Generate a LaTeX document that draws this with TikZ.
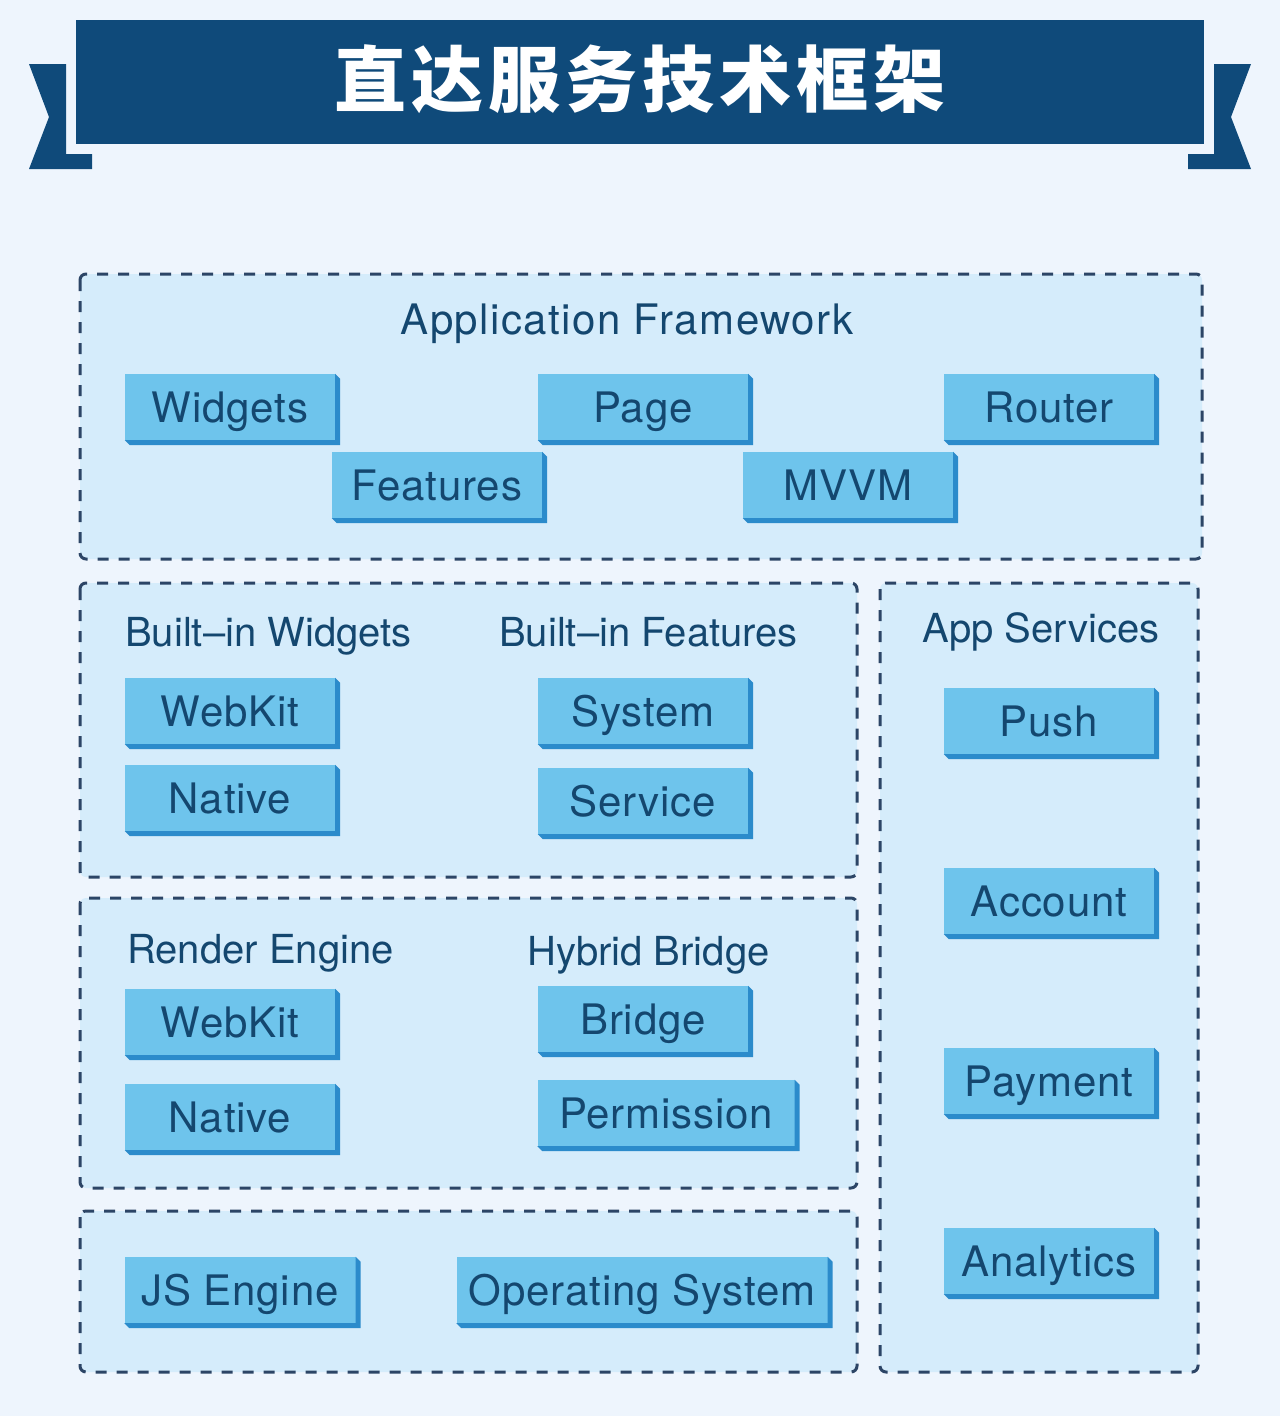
\documentclass[tikz,border=0pt]{standalone}
\usepackage{fontspec}
\setmainfont{TeX Gyre Heros}[LetterSpace=2]
\newfontfamily\subfont{TeX Gyre Heros}[LetterSpace=0]
\newfontfamily\affont{TeX Gyre Heros}[LetterSpace=3.5]
\newfontfamily\cjk{Noto Sans CJK SC}[LetterSpace=7]
\definecolor{bgc}{HTML}{EEF5FD}
\definecolor{contc}{HTML}{D5ECFB}
\definecolor{dashc}{HTML}{2C4566}
\definecolor{facec}{HTML}{6EC4EC}
\definecolor{shadc}{HTML}{2B8BCB}
\definecolor{txtc}{HTML}{14476F}
\definecolor{bannerc}{HTML}{0F4A7A}
\tikzset{
  container/.style={draw=dashc, line width=3pt, dash pattern=on 11pt off 10pt, rounded corners=6pt, fill=contc},
  blk/.style={fill=facec, inner sep=0pt, minimum height=66pt, text height=30pt, text depth=0pt,
    font=\fontsize{42}{50}\selectfont, text=txtc},
  hdr/.style={font=\subfont\fontsize{40}{48}\selectfont, text=txtc, inner sep=0pt},
}
\newcommand\blox[5]{%
  \node[blk, minimum width=#4pt] (#1) at (#2,#3) {#5};
  \fill[shadc] (#1.north east) -- ++(5,5) -- ([shift={(5,5)}]#1.south east)
    -- ([shift={(5,5)}]#1.south west) -- (#1.south west) -- (#1.south east) -- cycle;}
\begin{document}
\begin{tikzpicture}[x=1pt,y=-1pt]
\useasboundingbox (0,0) rectangle (1280,1416);
\fill[bgc] (0,0) rectangle (1280,1416);
% banner
\fill[bannerc] (76,20) rectangle (1204,144);
\fill[bannerc] (29,64) -- (66,64) -- (66,154) -- (92,154) -- (92,169) -- (29,169) -- (49,117) -- cycle;
\fill[bannerc] (1251,64) -- (1214,64) -- (1214,154) -- (1188,154) -- (1188,169) -- (1251,169) -- (1231,117) -- cycle;
\node[text=white, inner sep=0pt, font=\cjk\bfseries\fontsize{72}{80}\selectfont] (title) at (640,79) {直达服务技术框架};
% containers
\draw[container] (80,274) rectangle (1202,559);
\draw[container] (80,583) rectangle (857,877);
\draw[container] (80,898) rectangle (857,1188);
\draw[container] (80,1211) rectangle (857,1372);
\draw[container] (880,583) rectangle (1198,1372);
% headers
\node[hdr, font=\affont\fontsize{42}{50}\selectfont, anchor=base] (haf) at (627,334) {Application Framework};
\node[hdr, anchor=base west] (hbw) at (125,646) {Built–in Widgets};
\node[hdr, anchor=base west] (hbf) at (499,646) {Built–in Features};
\node[hdr, anchor=base] (has) at (1041,642) {App Services};
\node[hdr, anchor=base west] (hre) at (127,963) {Render Engine};
\node[hdr, anchor=base west] (hhb) at (527,965) {Hybrid Bridge};
% blocks
\blox{widgets}{230}{407}{210}{Widgets}
\blox{page}{643}{407}{210}{Page}
\blox{router}{1049}{407}{210}{Router}
\blox{features}{437}{485}{210}{Features}
\blox{mvvm}{848}{485}{210}{MVVM}
\blox{webkit1}{230}{711}{210}{WebKit}
\blox{native1}{230}{798}{210}{Native}
\blox{system}{643}{711}{210}{System}
\blox{service}{643}{801}{210}{Service}
\blox{push}{1049}{721}{210}{Push}
\blox{account}{1049}{901}{210}{Account}
\blox{payment}{1049}{1081}{210}{Payment}
\blox{analytics}{1049}{1261}{210}{Analytics}
\blox{webkit2}{230}{1022}{210}{WebKit}
\blox{native2}{230}{1117}{210}{Native}
\blox{bridge}{643}{1019}{210}{Bridge}
\blox{permission}{666}{1113}{257}{Permission}
\blox{jsengine}{240}{1290}{231}{JS Engine}
\blox{os}{642}{1290}{371}{Operating System}
\end{tikzpicture}
\end{document}
